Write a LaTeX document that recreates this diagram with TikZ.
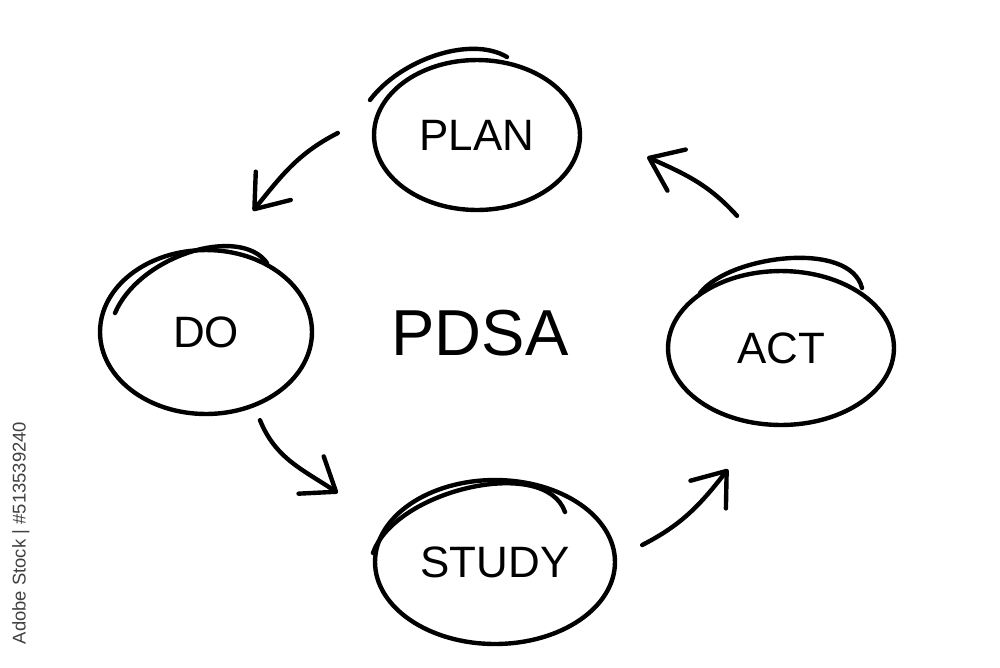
\documentclass[tikz,border=0pt]{standalone}
\usepackage{fontspec}
\setmainfont{Liberation Sans}
\usetikzlibrary{positioning, arrows.meta, shapes.geometric, calc}

\begin{document}
\begin{tikzpicture}[
      x=0.02cm, y=-0.02cm,
      every node/.style={font=\fontsize{25}{25}\selectfont},
      phase/.style 2 args={ellipse, draw, line width=2.5pt,
                   minimum width=#1, minimum height=#2, inner sep=0pt},
      pen/.style={line width=2.5pt, line cap=round},
      flow/.style={pen, -{Straight Barb[length=6mm, width=9mm, line cap=round, line join=round]}},
    ]
    \useasboundingbox (0,0) rectangle (1000,667);

    \node[phase={4.12cm}{3.0cm}]  (plan)  at (477,135) {PLAN};
    \node[phase={4.24cm}{3.28cm}] (do)    at (206,332) {DO};
    \node[phase={4.8cm}{3.28cm}]  (study) at (495,562) {STUDY};
    \node[phase={4.52cm}{3.08cm}] (act)   at (781,348) {ACT};

    \node[font=\fontsize{37}{37}\selectfont] (pdsa) at (480,333) {PDSA};
    \node[rotate=90, text=black!75, font=\fontsize{10.5}{10.5}\selectfont]
      (stockid) at (21,533) {Adobe Stock | \#513539240};

    \draw[pen] (370,100) .. controls (400,60) and (470,35) .. (507,57);
    \draw[pen] (115,313) .. controls (140,255) and (240,225) .. (267,263);
    \draw[pen] (373,553) .. controls (395,490) and (545,455) .. (565,512);
    \draw[pen] (700,293) .. controls (730,255) and (850,240) .. (862,288);

    \draw[flow] ($(plan.west)+(-34,-2)$) to[out=207, in=51] ($(do.north)+(47,-37)$);
    \draw[flow] ($(do.south)+(54,4)$) to[out=-68, in=146] ($(study.west)+(-35,-69)$);
    \draw[flow] ($(study.east)+(25,-17)$) to[out=27, in=232] ($(act.south)+(-53,42)$);
    \draw[flow] ($(act.north)+(-44,-53)$) to[out=132, in=336] ($(plan.east)+(65,22)$);
  \end{tikzpicture}
\end{document}
